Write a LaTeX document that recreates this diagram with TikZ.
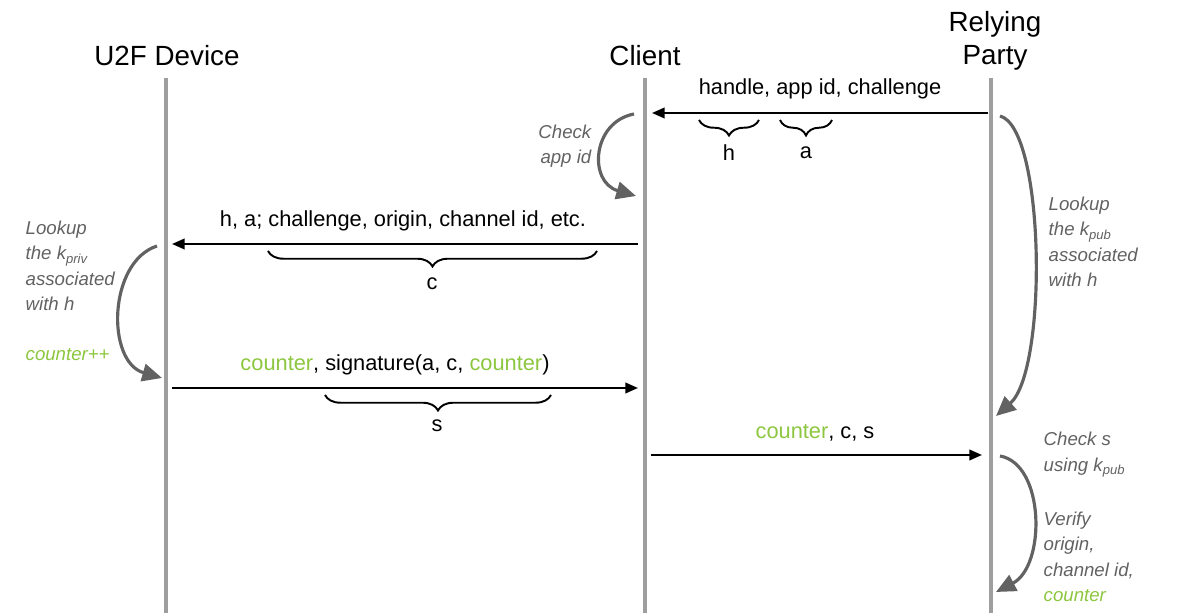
\documentclass[tikz,border=0pt]{standalone}
\usepackage{fontspec}
\setmainfont{Liberation Sans}
\usetikzlibrary{arrows.meta,decorations.pathreplacing}
\definecolor{ctrgreen}{RGB}{141,198,63}
\definecolor{lifegray}{RGB}{158,158,158}
\definecolor{notegray}{RGB}{98,98,98}
\tikzstyle{every node}=[inner sep=0pt]
\tikzstyle{party}=[font=\fontsize{7.9}{9.4}\selectfont,align=center]
\tikzstyle{lifeline}=[draw=lifegray,line width=0.9pt]
\tikzstyle{msg}=[draw=black,line width=0.6pt,-{Triangle[length=3.6pt,width=3pt]}]
\tikzstyle{msglabel}=[font=\fontsize{6.2}{7.4}\selectfont]
\tikzstyle{part}=[draw=black,line width=0.55pt,decorate,decoration={brace,mirror,amplitude=4.4pt}]
\tikzstyle{note}=[font=\fontsize{5.3}{7.2}\selectfont\itshape,text=notegray,align=left]
\tikzstyle{work}=[draw=notegray,line width=0.9pt,-{Triangle[length=5.6pt,width=5pt]}]
\newcommand{\ctr}{\textcolor{ctrgreen}{counter}}

\begin{document}
\begin{tikzpicture}[x=0.01cm,y=-0.01cm]
    \useasboundingbox (0,0) rectangle (1196,613);
    % parties and lifelines
    \node[party] (dev) at (167,56) {U2F Device};
    \node[party] (cli) at (645,56) {Client};
    \node[party] (rp) at (995,41) {Relying\\Party};
    \coordinate (devtop) at (166,78);  \coordinate (devbot) at (166,613);
    \coordinate (clitop) at (645,78);  \coordinate (clibot) at (645,613);
    \coordinate (rptop) at (991,78);   \coordinate (rpbot) at (991,613);
    \draw[lifeline] (devtop) -- (devbot);
    \draw[lifeline] (clitop) -- (clibot);
    \draw[lifeline] (rptop) -- (rpbot);

    % relying party -> client
    \coordinate (reqR) at (988,113); \coordinate (reqL) at (652,113);
    \draw[msg] (reqR) -- (reqL);
    \node[msglabel] (req) at (820,89) {handle, app id, challenge};
    \coordinate (hL) at (699,120); \coordinate (hR) at (759,120);
    \coordinate (aL) at (780,120); \coordinate (aR) at (832,120);
    \draw[part] (hL) -- (hR);
    \draw[part] (aL) -- (aR);
    \node[msglabel] (hname) at (729,153) {h};
    \node[msglabel] (aname) at (806,153) {a};

    % client checks app id
    \coordinate (chkA) at (634,114); \coordinate (chkB) at (636,196);
    \draw[work] (chkA) .. controls (592,122) and (588,182) .. (chkB);
    \node[note,anchor=east,align=right] (chk) at (592,146) {Check\\app id};

    % client -> device
    \coordinate (signR) at (638,244); \coordinate (signL) at (172,244);
    \draw[msg] (signR) -- (signL);
    \node[msglabel] (sign) at (403,221) {h, a; challenge, origin, channel id, etc.};
    \coordinate (cL) at (268,251); \coordinate (cR) at (597,251);
    \draw[part] (cL) -- (cR);
    \node[msglabel] (cname) at (432,284) {c};

    % device looks up its key
    \coordinate (devA) at (157,246); \coordinate (devB) at (162,378);
    \draw[work] (devA) .. controls (108,262) and (106,362) .. (devB);
    \node[note,anchor=west] (lookpriv) at (25,266) {Lookup\\the k\textsubscript{priv}\\associated\\with h};
    \node[note,anchor=west,text=ctrgreen] (inc) at (25,355) {counter++};

    % device -> client
    \coordinate (respL) at (172,388); \coordinate (respR) at (638,388);
    \draw[msg] (respL) -- (respR);
    \node[msglabel] (resp) at (395,365) {\ctr, signature(a, c, \ctr)};
    \coordinate (sL) at (325,395); \coordinate (sR) at (551,395);
    \draw[part] (sL) -- (sR);
    \node[msglabel] (sname) at (437,426) {s};

    % relying party looks up its key
    \coordinate (rpA) at (1000,116); \coordinate (rpB) at (996,416);
    \draw[work] (rpA) .. controls (1045,128) and (1048,370) .. (rpB);
    \node[note,anchor=west] (lookpub) at (1048,242) {Lookup\\the k\textsubscript{pub}\\associated\\with h};

    % client -> relying party
    \coordinate (fwdL) at (651,455); \coordinate (fwdR) at (982,455);
    \draw[msg] (fwdL) -- (fwdR);
    \node[msglabel] (fwd) at (815,433) {\ctr, c, s};

    % relying party verifies
    \coordinate (verA) at (1000,456); \coordinate (verB) at (996,592);
    \draw[work] (verA) .. controls (1045,464) and (1046,566) .. (verB);
    \node[note,anchor=west] (chks) at (1043,455) {Check s\\using k\textsubscript{pub}};
    \node[note,anchor=west] (verify) at (1043,557) {Verify\\origin,\\channel id,\\\textcolor{ctrgreen}{counter}};
\end{tikzpicture}
\end{document}
